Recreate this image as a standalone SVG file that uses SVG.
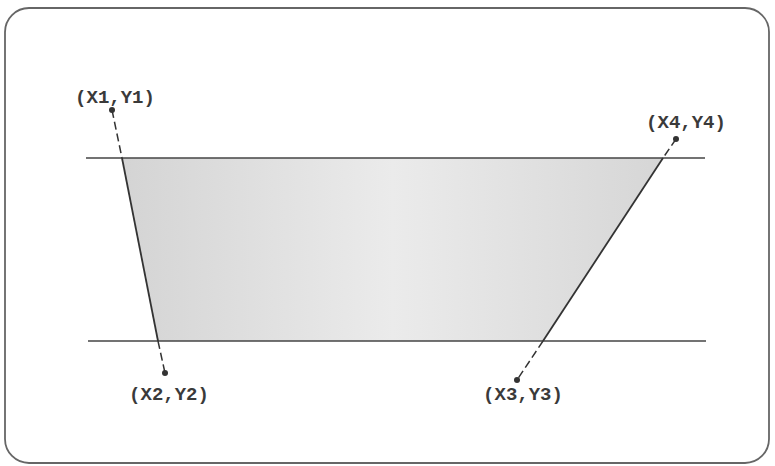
<svg xmlns="http://www.w3.org/2000/svg" width="775" height="466" viewBox="0 0 775 466">
<defs>
<linearGradient id="fillg" x1="0" y1="0" x2="1" y2="0">
<stop offset="0" stop-color="#d4d4d4"/>
<stop offset="0.5" stop-color="#ebebeb"/>
<stop offset="1" stop-color="#d6d6d6"/>
</linearGradient>
</defs>
<style>
.frame{fill:#fff;stroke:#666;stroke-width:1.8}
.band{stroke:#444;stroke-width:1.5;fill:none}
.edge{stroke:#333;stroke-width:1.8;fill:none}
.dash{stroke:#333;stroke-width:1.5;fill:none;stroke-dasharray:8,4}
.pt{fill:#333}
.lbl{font-family:"Liberation Mono",monospace;font-weight:bold;font-size:19px;fill:#3a3a3a;text-anchor:middle}
</style>
<rect class="frame" x="5" y="8" width="764" height="455" rx="24"/>
<polygon id="region" points="122,158 663,158 543,341 158,341" fill="url(#fillg)"/>
<g id="connectors">
<line class="band" x1="86" y1="158" x2="705" y2="158"/>
<line class="band" x1="88" y1="341" x2="706" y2="341"/>
<line class="dash" x1="112" y1="110" x2="122" y2="158"/>
<line class="edge" x1="122" y1="158" x2="158" y2="341"/>
<line class="dash" x1="158" y1="341" x2="165" y2="373"/>
<line class="dash" x1="676" y1="139" x2="663" y2="158"/>
<line class="edge" x1="663" y1="158" x2="543" y2="341"/>
<line class="dash" x1="543" y1="341" x2="517" y2="380"/>
</g>
<g id="p1"><circle class="pt" cx="112" cy="110" r="3"/><text class="lbl" x="115" y="103">(X1,Y1)</text></g>
<g id="p2"><circle class="pt" cx="165" cy="373" r="3"/><text class="lbl" x="169" y="400">(X2,Y2)</text></g>
<g id="p3"><circle class="pt" cx="517" cy="380" r="3"/><text class="lbl" x="523" y="400">(X3,Y3)</text></g>
<g id="p4"><circle class="pt" cx="676" cy="139" r="3"/><text class="lbl" x="686" y="128">(X4,Y4)</text></g>
</svg>
